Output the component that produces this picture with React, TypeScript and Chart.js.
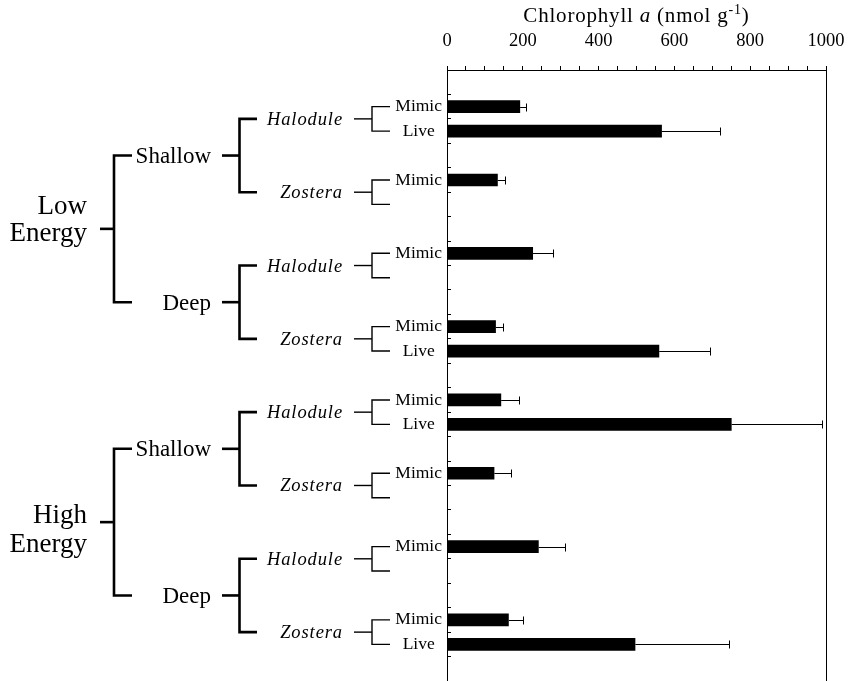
import { useEffect, useRef } from 'react';
import { Chart, registerables } from 'chart.js';

Chart.register(...registerables);

// ---- data ----
const energyLevels = ['Low', 'High'];
const depthLevels = ['Shallow', 'Deep'];
const speciesNames = ['Halodule', 'Zostera'];
// groups ordered: energy x depth x species
const mimicMeans = [193, 134, 227, 129, 143, 125, 242, 163];
const mimicErrors = [16, 19, 52, 18, 48, 44, 70, 38];
const liveMeans: (number | null)[] = [567, null, null, 560, 751, null, null, 497];
const liveErrors: (number | null)[] = [154, null, null, 134, 239, null, null, 246];
const xMin = 0;
const xMax = 1000;
const xStep = 50;
const xLabelStep = 200;
const axisTitle = ['Chlorophyll ', 'a', ' (nmol g', '-1', ')'];

// rows: a blank row on top, then (Mimic, Live, blank) per group
const rowLabels: string[] = [''];
const rowValues: (number | null)[] = [null];
const rowErrors: (number | null)[] = [null];
mimicMeans.forEach((m, g) => {
  rowLabels.push('Mimic', liveMeans[g] != null ? 'Live' : '', '');
  rowValues.push(m, liveMeans[g], null);
  rowErrors.push(mimicErrors[g], liveErrors[g], null);
});

const FONT = "'Liberation Serif', 'Times New Roman', serif";

const errorBarPlugin = {
  id: 'errorBars',
  afterDatasetsDraw(chart: any) {
    const ctx = chart.ctx;
    const xs = chart.scales.x;
    const meta = chart.getDatasetMeta(0);
    ctx.save();
    ctx.strokeStyle = '#000';
    ctx.lineWidth = 1;
    rowValues.forEach((v, i) => {
      const e = rowErrors[i];
      if (v == null || e == null) return;
      const bar = meta.data[i];
      if (!bar) return;
      const yc = Math.round(bar.y) + 0.5;
      const x0 = xs.getPixelForValue(v);
      const x1 = Math.round(xs.getPixelForValue(v + e)) + 0.5;
      ctx.beginPath();
      ctx.moveTo(x0, yc);
      ctx.lineTo(x1, yc);
      ctx.moveTo(x1, yc - 4);
      ctx.lineTo(x1, yc + 4);
      ctx.stroke();
    });
    ctx.restore();
  },
};

function bracket(ctx: CanvasRenderingContext2D, vx: number, armEnd: number, stemStart: number, yA: number, yB: number, lw: number) {
  ctx.lineWidth = lw;
  ctx.beginPath();
  ctx.moveTo(armEnd, yA);
  ctx.lineTo(vx, yA);
  ctx.lineTo(vx, yB);
  ctx.lineTo(armEnd, yB);
  ctx.stroke();
  const mid = (yA + yB) / 2;
  ctx.beginPath();
  ctx.moveTo(stemStart, mid);
  ctx.lineTo(vx, mid);
  ctx.stroke();
  return mid;
}

const treePlugin = {
  id: 'tree',
  afterDraw(chart: any) {
    const ctx: CanvasRenderingContext2D = chart.ctx;
    const ys = chart.scales.y;
    const area = chart.chartArea;
    ctx.save();
    ctx.strokeStyle = '#000';
    ctx.fillStyle = '#000';
    ctx.lineJoin = 'miter';
    ctx.lineCap = 'butt';
    ctx.textAlign = 'right';
    ctx.textBaseline = 'alphabetic';

    // species level
    const speciesY: number[] = [];
    for (let g = 0; g < mimicMeans.length; g++) {
      const yM = ys.getPixelForValue(1 + 3 * g);
      const yL = ys.getPixelForValue(2 + 3 * g);
      const mid = bracket(ctx, 372, 390, 354, yM, yL, 1.4);
      speciesY.push(mid);
      ctx.font = `italic 18.5px ${FONT}`;
      (ctx as any).letterSpacing = '0.9px';
      ctx.fillText(speciesNames[g % 2], 343, mid + 6);
      (ctx as any).letterSpacing = '0px';
    }
    // depth level
    const depthY: number[] = [];
    for (let d = 0; d < speciesY.length / 2; d++) {
      const mid = bracket(ctx, 239.5, 257, 222, speciesY[2 * d], speciesY[2 * d + 1], 2.6);
      depthY.push(mid);
      ctx.font = `23px ${FONT}`;
      ctx.fillText(depthLevels[d % 2], 211, mid + 7.5);
    }
    // energy level
    const energyOffsets = [[-15, 12], [1, 30]];
    for (let e = 0; e < depthY.length / 2; e++) {
      const mid = bracket(ctx, 114, 132, 100, depthY[2 * e], depthY[2 * e + 1], 2.6);
      ctx.font = `27px ${FONT}`;
      ctx.fillText(energyLevels[e], 87, mid + energyOffsets[e][0]);
      ctx.fillText('Energy', 87, mid + energyOffsets[e][1]);
    }

    // axis title
    const parts = [
      { t: axisTitle[0], f: `21px ${FONT}`, dy: 0 },
      { t: axisTitle[1], f: `italic 21px ${FONT}`, dy: 0 },
      { t: axisTitle[2], f: `21px ${FONT}`, dy: 0 },
      { t: axisTitle[3], f: `14px ${FONT}`, dy: -8 },
      { t: axisTitle[4], f: `21px ${FONT}`, dy: 0 },
    ];
    (ctx as any).letterSpacing = '0.8px';
    let total = 0;
    const widths = parts.map((p) => {
      ctx.font = p.f;
      const w = ctx.measureText(p.t).width;
      total += w;
      return w;
    });
    let x = (area.left + area.right) / 2 - total / 2;
    ctx.textAlign = 'left';
    parts.forEach((p, i) => {
      ctx.font = p.f;
      ctx.fillText(p.t, x, 22 + p.dy);
      x += widths[i];
    });
    (ctx as any).letterSpacing = '0px';
    ctx.restore();
  },
};

export default function App() {
  const ref = useRef<HTMLCanvasElement | null>(null);
  useEffect(() => {
    if (!ref.current) return;
    const chart = new Chart(ref.current, {
      type: 'bar',
      data: {
        labels: rowLabels,
        datasets: [
          {
            data: rowValues as any,
            backgroundColor: '#000',
            borderWidth: 0,
            barPercentage: 0.52,
            categoryPercentage: 1,
          },
        ],
      },
      options: {
        indexAxis: 'y',
        responsive: false,
        animation: false,
        events: [],
        layout: { padding: { left: 387, right: 23, top: 30, bottom: 0 } },
        plugins: { legend: { display: false }, tooltip: { enabled: false }, title: { display: false } },
        scales: {
          x: {
            type: 'linear',
            position: 'top',
            min: xMin,
            max: xMax,
            afterFit: (s: any) => {
              s.height = 40;
              s.paddingLeft = 0;
              s.paddingRight = 0;
            },
            ticks: {
              stepSize: xStep,
              autoSkip: false,
              maxRotation: 0,
              padding: 14,
              color: '#000',
              font: { family: FONT, size: 18.5 },
              callback: (v: any) => (Number(v) % xLabelStep === 0 ? String(v) : ''),
            },
            grid: {
              drawOnChartArea: true,
              drawTicks: true,
              tickLength: 4,
              tickColor: '#000',
              lineWidth: 1,
              color: (c: any) => (c.tick && c.tick.value === xMax ? '#000' : 'rgba(0,0,0,0)'),
            },
            border: { display: true, color: '#000', width: 1 },
          },
          y: {
            type: 'category',
            position: 'left',
            offset: true,
            afterFit: (s: any) => {
              s.width = 60;
              s.paddingTop = 0;
              s.paddingBottom = 0;
            },
            ticks: {
              autoSkip: false,
              crossAlign: 'center',
              padding: 9,
              color: '#000',
              font: { family: FONT, size: 17.5 },
            },
            grid: {
              offset: true,
              drawOnChartArea: false,
              drawTicks: true,
              tickLength: -4,
              color: '#000',
              lineWidth: 1,
            },
            border: { display: true, color: '#000', width: 1 },
          },
        },
      },
      plugins: [errorBarPlugin, treePlugin],
    } as any);
    return () => chart.destroy();
  }, []);
  return (
    <div style={{ position: 'absolute', left: 0, top: 0, width: 849, height: 681, background: '#fff' }}>
      <canvas ref={ref} width={849} height={681} />
    </div>
  );
}
